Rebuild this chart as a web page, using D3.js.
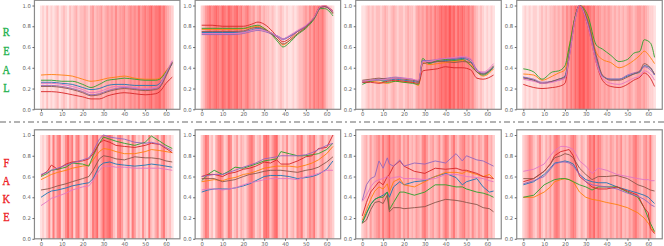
<!DOCTYPE html>
<html>
<head>
<meta charset="utf-8">
<script src="https://cdn.jsdelivr.net/npm/d3@7"></script>
<style>
  body { margin: 0; background: #fff; }
  svg { display: block; }
</style>
</head>
<body>
<script>
// series order everywhere: blue, orange, green, red, purple, brown, pink
var seriesColors = ["#1f77b4", "#ff7f0e", "#2ca02c", "#d62728", "#9467bd", "#8c564b", "#e377c2"];
var xTicks = [0, 10, 20, 30, 40, 50, 60];
var yTicks = [0, 0.2, 0.4, 0.6, 0.8, 1.0];
var realLetters = ["R", "E", "A", "L"];
var fakeLetters = ["F", "A", "K", "E"];

// ---- REAL row ----
var real1Steps = [0, 5, 10, 15, 20, 24, 28, 32, 36, 40, 45, 50, 55, 57, 60, 63];
var real1Series = [
  [.26, .26, .25, .24, .21, .19, .20, .23, .24, .24, .23, .23, .23, .25, .34, .44],
  [.33, .335, .33, .32, .29, .27, .28, .30, .31, .32, .30, .29, .29, .30, .37, .45],
  [.28, .28, .27, .27, .24, .21, .24, .28, .29, .30, .29, .28, .28, .29, .36, .45],
  [.17, .17, .16, .14, .12, .10, .10, .13, .15, .16, .15, .14, .15, .17, .25, .31],
  [.23, .23, .22, .20, .17, .14, .15, .18, .20, .21, .20, .19, .20, .22, .33, .46],
  [.22, .22, .21, .19, .16, .13, .14, .17, .19, .20, .19, .18, .19, .21, .32, .45],
  [.25, .25, .24, .22, .19, .16, .17, .20, .22, .22, .21, .20, .21, .24, .35, .47]
];
var real1Shade = [
  1, 2, 1, 3, 1, 2, 1, 2,
  3, 1, 2, 3, 2, 1, 3, 2,
  3, 4, 2, 3, 3, 4, 3, 2,
  4, 5, 3, 4, 4, 5, 3, 4,
  5, 4, 5, 4, 6, 4, 5, 5,
  6, 4, 5, 6, 5, 6, 5, 7,
  5, 6, 7, 6, 7, 8, 6, 7,
  7, 8, 6, 7, 5, 4, 3, 2
];

var real2Steps = [0, 5, 10, 15, 20, 24, 27, 30, 34, 37, 39, 42, 46, 50, 54, 57, 59, 63];
var real2Series = [
  [.74, .74, .74, .74, .745, .765, .78, .765, .73, .70, .68, .70, .75, .80, .88, .98, .99, .93],
  [.77, .77, .77, .77, .775, .79, .80, .78, .72, .66, .62, .66, .73, .79, .88, .98, 1.0, .93],
  [.78, .78, .78, .78, .78, .80, .81, .78, .71, .64, .60, .64, .72, .78, .87, .97, .97, .90],
  [.81, .81, .80, .80, .80, .82, .84, .82, .75, .68, .65, .68, .75, .80, .89, .99, .99, .95],
  [.72, .72, .72, .72, .73, .75, .76, .75, .72, .69, .67, .70, .75, .80, .88, .98, .99, .94],
  [.75, .75, .75, .75, .755, .78, .79, .77, .72, .66, .63, .66, .73, .79, .88, .98, .99, .92],
  [.73, .73, .73, .73, .74, .76, .77, .76, .73, .70, .68, .71, .76, .81, .89, .99, 1.0, .94]
];
var real2Shade = [
  2, 3, 5, 6, 7, 6, 7, 8,
  7, 6, 8, 7, 6, 8, 7, 6,
  7, 8, 6, 7, 5, 6, 7, 5,
  4, 5, 3, 4, 5, 3, 4, 3,
  3, 2, 3, 2, 1, 2, 3, 2,
  1, 2, 1, 1, 2, 1, 2, 3,
  3, 4, 5, 4, 6, 5, 7, 6,
  7, 6, 7, 5, 3, 2, 2, 1
];

var real3Steps = [0, 4, 8, 12, 16, 20, 24, 27, 29, 32, 36, 40, 44, 48, 52, 55, 58, 63];
var real3Series = [
  [.26, .27, .28, .28, .29, .28, .27, .26, .47, .45, .46, .47, .48, .49, .46, .38, .34, .40],
  [.27, .27, .26, .25, .27, .26, .26, .23, .45, .43, .44, .45, .46, .47, .43, .36, .32, .39],
  [.24, .27, .28, .26, .27, .26, .25, .24, .49, .44, .47, .48, .47, .48, .42, .36, .33, .41],
  [.26, .26, .25, .27, .28, .27, .26, .25, .37, .38, .39, .41, .40, .40, .38, .30, .29, .33],
  [.27, .28, .29, .30, .31, .30, .29, .27, .47, .47, .48, .49, .49, .50, .48, .38, .35, .41],
  [.28, .29, .30, .29, .30, .29, .28, .27, .44, .45, .46, .46, .45, .46, .45, .36, .34, .42],
  [.27, .28, .28, .29, .30, .30, .29, .28, .46, .46, .48, .49, .50, .51, .49, .37, .36, .44]
];
var real3Shade = [
  1, 1, 2, 3, 2, 3, 2, 3,
  3, 2, 3, 4, 3, 2, 3, 4,
  3, 2, 3, 3, 2, 3, 4, 3,
  3, 2, 4, 5, 4, 5, 4, 6,
  5, 6, 5, 7, 6, 7, 8, 7,
  8, 7, 9, 7, 8, 6, 8, 7,
  8, 7, 6, 7, 5, 6, 4, 3,
  2, 3, 2, 1, 2, 1, 2, 1
];

var real4Steps = [0, 5, 9, 14, 17, 20, 22, 25, 27, 31, 35, 38, 42, 46, 50, 53, 56, 58, 61, 63];
var real4Series = [
  [.31, .28, .25, .27, .29, .32, .55, .90, 1.0, .82, .50, .32, .29, .29, .32, .34, .36, .42, .40, .33],
  [.34, .33, .28, .32, .35, .38, .60, .90, 1.0, .88, .55, .48, .45, .40, .43, .47, .52, .56, .50, .44],
  [.39, .36, .29, .36, .37, .42, .60, .90, 1.0, .90, .62, .58, .52, .46, .48, .54, .56, .67, .64, .50],
  [.24, .21, .20, .21, .22, .25, .50, .88, 1.0, .80, .45, .28, .22, .21, .24, .28, .31, .35, .30, .22],
  [.31, .29, .26, .27, .28, .30, .50, .88, 1.0, .82, .50, .32, .29, .29, .33, .35, .37, .41, .38, .33],
  [.30, .28, .25, .27, .29, .31, .52, .90, 1.0, .85, .52, .33, .28, .28, .31, .34, .37, .44, .40, .34],
  [.29, .27, .25, .26, .28, .30, .50, .88, 1.0, .80, .45, .30, .25, .24, .27, .30, .32, .37, .34, .28]
];
var real4Shade = [
  1, 2, 1, 2, 1, 2, 2, 1,
  2, 3, 2, 3, 2, 3, 3, 4,
  3, 4, 3, 5, 4, 6, 5, 7,
  6, 8, 7, 9, 8, 9, 7, 8,
  7, 6, 7, 5, 6, 5, 4, 5,
  4, 5, 4, 3, 4, 3, 4, 3,
  4, 3, 4, 5, 4, 3, 4, 5,
  5, 4, 5, 4, 3, 2, 2, 1
];

// ---- FAKE row ----
var fake1Steps = [0, 3, 5, 8, 12, 15, 20, 23, 25, 28, 30, 33, 36, 40, 45, 50, 53, 57, 60, 63];
var fake1Series = [
  [.40, .44, .46, .47, .49, .51, .53, .54, .58, .70, .73, .74, .72, .71, .70, .71, .72, .71, .70, .69],
  [.57, .60, .62, .64, .66, .68, .70, .71, .76, .84, .87, .86, .84, .82, .82, .84, .86, .85, .84, .83],
  [.60, .63, .66, .67, .69, .73, .72, .70, .80, .92, .98, .96, .94, .92, .90, .93, .99, .94, .90, .87],
  [.61, .65, .71, .67, .72, .74, .75, .77, .82, .92, .95, .93, .90, .89, .88, .90, .92, .91, .87, .83],
  [.62, .64, .66, .68, .71, .73, .76, .78, .84, .96, 1.0, .98, .97, .96, .93, .92, .93, .91, .88, .85],
  [.47, .48, .49, .51, .53, .55, .58, .60, .66, .77, .80, .79, .77, .76, .79, .78, .78, .77, .75, .74],
  [.32, .36, .39, .41, .44, .47, .50, .51, .56, .66, .70, .70, .69, .69, .68, .68, .68, .68, .67, .66]
];
var fake1Shade = [
  1, 2, 1, 3, 6, 2, 7, 3,
  6, 7, 2, 3, 6, 8, 5, 7,
  2, 6, 7, 3, 2, 5, 7, 2,
  3, 7, 6, 8, 3, 5, 8, 6,
  7, 8, 6, 3, 2, 6, 7, 5,
  2, 3, 6, 2, 7, 5, 2, 3,
  2, 6, 3, 2, 7, 3, 2, 4,
  6, 2, 5, 7, 3, 2, 3, 1
];

var fake2Steps = [0, 3, 6, 10, 13, 16, 20, 23, 26, 30, 33, 36, 38, 42, 46, 50, 53, 56, 60, 63];
var fake2Series = [
  [.45, .47, .48, .48, .48, .49, .51, .53, .56, .60, .61, .61, .61, .60, .58, .59, .60, .62, .67, .75],
  [.55, .56, .57, .56, .58, .59, .62, .63, .65, .68, .69, .70, .70, .70, .69, .71, .73, .76, .82, .89],
  [.56, .62, .66, .62, .65, .69, .68, .70, .72, .75, .76, .77, .84, .82, .80, .80, .81, .82, .86, .92],
  [.60, .62, .62, .60, .63, .64, .67, .68, .70, .74, .73, .76, .72, .72, .75, .79, .80, .87, .88, 1.0],
  [.60, .61, .62, .62, .64, .66, .69, .71, .73, .77, .78, .79, .80, .80, .80, .81, .83, .86, .90, .92],
  [.58, .58, .58, .55, .56, .57, .60, .62, .63, .65, .66, .66, .66, .65, .64, .66, .67, .69, .74, .79],
  [.47, .48, .48, .47, .48, .49, .52, .54, .55, .57, .58, .58, .58, .58, .57, .60, .61, .63, .66, .66]
];
var fake2Shade = [
  2, 4, 7, 6, 2, 3, 1, 4,
  6, 7, 5, 2, 3, 7, 6, 2,
  3, 5, 2, 4, 3, 2, 4, 6,
  7, 5, 2, 3, 4, 2, 7, 8,
  7, 3, 5, 7, 8, 3, 2, 4,
  3, 6, 2, 3, 4, 2, 6, 5,
  7, 3, 2, 4, 6, 5, 7, 3,
  2, 4, 6, 3, 2, 4, 3, 2
];

var fake3Steps = [0, 2, 4, 6, 8, 10, 12, 13, 15, 18, 20, 25, 30, 35, 40, 45, 48, 50, 55, 58, 61, 63];
var fake3Series = [
  [.16, .25, .33, .38, .40, .42, .45, .40, .50, .55, .52, .55, .56, .60, .63, .59, .52, .55, .58, .50, .45, .46],
  [.18, .28, .38, .46, .50, .48, .53, .45, .55, .58, .52, .50, .55, .60, .64, .64, .63, .65, .62, .60, .62, .58],
  [.15, .24, .33, .38, .40, .40, .45, .28, .35, .45, .45, .42, .45, .52, .52, .50, .50, .48, .45, .44, .42, .40],
  [.22, .35, .45, .50, .55, .52, .60, .62, .70, .75, .70, .65, .63, .68, .67, .68, .66, .66, .63, .60, .59, .58],
  [.37, .52, .58, .60, .75, .68, .78, .72, .70, .76, .70, .73, .72, .75, .73, .82, .75, .80, .76, .75, .72, .70],
  [.15, .18, .28, .35, .36, .34, .42, .26, .30, .30, .29, .30, .31, .35, .38, .37, .36, .35, .33, .30, .29, .26],
  [.36, .42, .50, .55, .57, .58, .60, .58, .59, .60, .58, .58, .57, .58, .62, .62, .61, .60, .59, .58, .56, .55]
];
var fake3Shade = [
  2, 3, 4, 2, 5, 3, 4, 5,
  6, 4, 7, 5, 6, 8, 5, 6,
  4, 5, 6, 3, 5, 4, 6, 3,
  4, 3, 5, 4, 3, 6, 7, 5,
  3, 4, 5, 3, 4, 6, 3, 5,
  7, 6, 3, 5, 7, 4, 3, 5,
  6, 7, 4, 5, 3, 6, 4, 3,
  5, 4, 3, 6, 7, 3, 4, 2
];

var fake4Steps = [0, 5, 10, 13, 15, 18, 20, 22, 24, 27, 30, 33, 36, 40, 45, 50, 55, 58, 60, 61, 63];
var fake4Series = [
  [.52, .55, .62, .68, .73, .74, .75, .74, .72, .62, .57, .55, .54, .54, .50, .47, .44, .42, .40, .38, .34],
  [.40, .40, .45, .50, .55, .57, .58, .57, .55, .45, .40, .38, .37, .35, .33, .30, .25, .20, .15, .12, .06],
  [.40, .42, .52, .55, .57, .58, .58, .57, .55, .52, .50, .47, .50, .50, .50, .45, .40, .30, .20, .15, .07],
  [.55, .58, .65, .72, .80, .84, .85, .86, .80, .60, .55, .50, .48, .48, .50, .46, .42, .30, .25, .10, .05],
  [.53, .56, .60, .67, .72, .74, .74, .73, .70, .62, .55, .52, .51, .50, .48, .44, .41, .38, .35, .33, .31],
  [.58, .58, .65, .72, .78, .80, .82, .81, .78, .68, .62, .57, .60, .60, .61, .58, .52, .50, .48, .47, .46],
  [.65, .67, .72, .80, .85, .89, .89, .88, .86, .75, .70, .63, .68, .66, .62, .60, .58, .57, .57, .56, .56]
];
var fake4Shade = [
  2, 3, 4, 6, 5, 3, 2, 4,
  6, 3, 2, 4, 3, 5, 3, 6,
  7, 6, 3, 4, 5, 3, 4, 6,
  7, 6, 3, 2, 4, 3, 2, 5,
  7, 6, 8, 5, 7, 6, 4, 3,
  4, 3, 5, 4, 3, 5, 4, 6,
  3, 4, 3, 5, 4, 6, 7, 5,
  4, 3, 5, 6, 4, 7, 3, 2
];

var W = 664, H = 246;
var svg = d3.select("body").append("svg")
  .attr("width", W)
  .attr("height", H);

var panelX = [41, 201.7, 362.3, 523.3];   // pixel of step 0
var rowY = [5.5, 135];                    // pixel of value 1.0
var rowH = 103.8;

var shadeColor = d3.scaleLinear().domain([0, 9]).range([0.05, 0.66]);

function drawPanel(px, py, steps, series, shade, smooth) {
  var x = d3.scaleLinear().domain([0, 60]).range([px, px + 125]);
  var y = d3.scaleLinear().domain([0, 1]).range([py + rowH, py]);
  var g = svg.append("g");

  // red stripes behind the lines
  g.selectAll("rect.stripe")
    .data(shade)
    .enter().append("rect")
    .attr("class", "stripe")
    .attr("x", function(d, i) { return x(i - 0.5); })
    .attr("width", x(1) - x(0) + 0.4)
    .attr("y", y(1))
    .attr("height", y(0) - y(1))
    .style("fill", function(d) { return d3.interpolateRgb("#ffffff", "#ff0000")(shadeColor(d)); });

  var line = d3.line()
    .x(function(d, i) { return x(steps[i]); })
    .y(function(d) { return y(d); })
    .curve(smooth ? d3.curveMonotoneX : d3.curveLinear);

  g.selectAll("path.series")
    .data(series)
    .enter().append("path")
    .attr("class", "series")
    .attr("d", line)
    .style("fill", "none")
    .style("stroke", function(d, i) { return seriesColors[i]; })
    .style("stroke-width", 1)
    .style("stroke-opacity", 0.9);

  // frame (matplotlib-like spines)
  var left = x(-3.15), right = x(66.7);
  g.append("rect")
    .attr("x", left).attr("y", y(1.05))
    .attr("width", right - left).attr("height", y(0) - y(1.05))
    .style("fill", "none")
    .style("stroke", "#8a8a8a")
    .style("stroke-width", 1.2);

  var yAxis = g.append("g")
    .attr("transform", "translate(" + left + ",0)")
    .call(d3.axisLeft(y).tickValues(yTicks).tickFormat(d3.format(".1f")).tickSize(2).tickPadding(1.5));
  var xAxis = g.append("g")
    .attr("transform", "translate(0," + y(0) + ")")
    .call(d3.axisBottom(x).tickValues(xTicks).tickFormat(d3.format("d")).tickSize(2).tickPadding(1));

  [yAxis, xAxis].forEach(function(a) {
    a.select(".domain").remove();
    a.attr("color", "#666");
    a.selectAll("text")
      .style("font-family", "DejaVu Sans")
      .style("font-size", "5.3px");
  });
}

var realPanels = [
  [real1Steps, real1Series, real1Shade],
  [real2Steps, real2Series, real2Shade],
  [real3Steps, real3Series, real3Shade],
  [real4Steps, real4Series, real4Shade]
];
var fakePanels = [
  [fake1Steps, fake1Series, fake1Shade],
  [fake2Steps, fake2Series, fake2Shade],
  [fake3Steps, fake3Series, fake3Shade],
  [fake4Steps, fake4Series, fake4Shade]
];

realPanels.forEach(function(p, i) { drawPanel(panelX[i], rowY[0], p[0], p[1], p[2], true); });
fakePanels.forEach(function(p, i) { drawPanel(panelX[i], rowY[1], p[0], p[1], p[2], false); });

// dash-dot separator between the rows
svg.append("line")
  .attr("x1", 0).attr("x2", W)
  .attr("y1", 122).attr("y2", 122)
  .style("stroke", "#9a9a9a")
  .style("stroke-width", 1.6)
  .style("stroke-dasharray", "6,3,2,3");

// row labels, one letter per line
function drawWord(letters, centers, color) {
  svg.selectAll(null)
    .data(letters)
    .enter().append("text")
    .attr("transform", function(d, i) { return "translate(6.3," + (centers[i] + 4.4) + ") scale(0.8,1)"; })
    .attr("text-anchor", "middle")
    .style("font-family", "Liberation Serif")
    .style("font-size", "13px")
    .style("fill", color)
    .style("stroke", color)
    .style("stroke-width", 0.35)
    .text(function(d) { return d; });
}
drawWord(realLetters, [31.8, 51, 70, 87.5], "#22b14c");
drawWord(fakeLetters, [162.5, 181, 199, 217], "#ed1c24");
</script>
</body>
</html>
